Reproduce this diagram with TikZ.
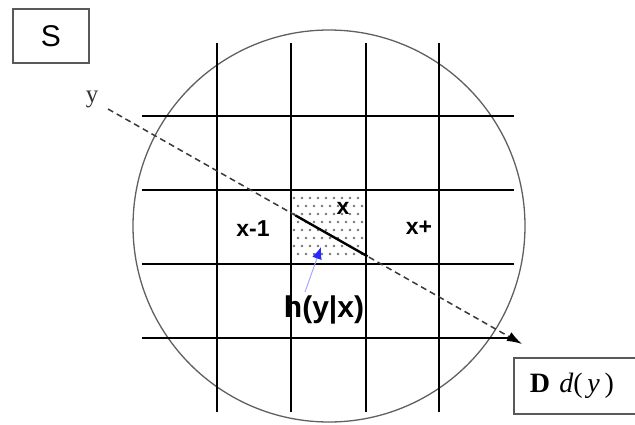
\documentclass[tikz,border=0pt]{standalone}
\usepackage{fontspec}
\setmainfont{Liberation Serif}
\setsansfont{Liberation Sans}
\usetikzlibrary{calc, arrows.meta, positioning}

\tikzset{
  gridline/.style={line width=2.9pt, black},
  labelbox/.style={draw=gray!70!black, line width=1.6pt, inner sep=0pt},
  celllabel/.style={font=\sffamily\bfseries\fontsize{23}{25}\selectfont}
}

\begin{document}
\begin{tikzpicture}[x=1pt, y=-1pt, >=latex]
    \useasboundingbox (0,0) rectangle (635,424);
    \clip (0,0) rectangle (635,424);

    % 1. Vung tron
    \draw[gray!75!black, line width=1.3pt] (329,226) circle (196pt);

    % 2. Luoi
    \foreach \gx in {217,291,366,439}
        \draw[gridline] (\gx,43) -- (\gx,412);
    \foreach \gy in {116,190,264,338}
        \draw[gridline] (142,\gy) -- (514,\gy);

    % 3. O cham
    \foreach \j in {0,...,7}
        \foreach \i in {0,...,8}
            \fill[gray!90!black] ({294+8*\i+4*mod(\j,2)},{198+8*\j}) circle (1.3pt);

    % 4. Duong y
    \coordinate (ya) at (108,109);
    \coordinate (yb) at (522,344);
    \draw[gray!45!black, line width=1.5pt, dash pattern=on 6pt off 4pt,
          -{Latex[length=15pt, width=10pt, black]}] (ya) -- (yb);
    \draw[line width=2.4pt] ($(ya)!0.453!(yb)$) -- ($(ya)!0.627!(yb)$);
    \node[gray!40!black, font=\fontsize{25}{27}\selectfont] (ylab) at (92,99) {y};

    % 5. Nhan
    \node[celllabel] (xm) at (253,229) {x-1};
    \node[celllabel] (xc) at (343,208) {x};
    \node[celllabel] (xp) at (419,228) {x+};
    \node[font=\sffamily\bfseries\fontsize{30}{32}\selectfont] (h) at (324,310) {h(y|x)};
    \coordinate (htail) at (305,292);
    \coordinate (htip) at (321,247);
    \draw[blue!35, line width=1pt, -{Latex[length=12pt, width=10pt, blue!85]}] (htail) -- (htip);

    % 6. Hop S va D
    \node[labelbox, minimum width=76pt, minimum height=54pt,
          font=\sffamily\fontsize{30}{32}\selectfont] (S) at (51,36) {S};
    \node[labelbox, minimum width=127pt, minimum height=56pt, anchor=north west,
          text width=115pt, align=left, font=\fontsize{28}{30}\selectfont]
        (D) at (513,357) {\hspace*{10pt}\textbf{D} \textit{d}(\,\textit{y}\,)};
\end{tikzpicture}
\end{document}
